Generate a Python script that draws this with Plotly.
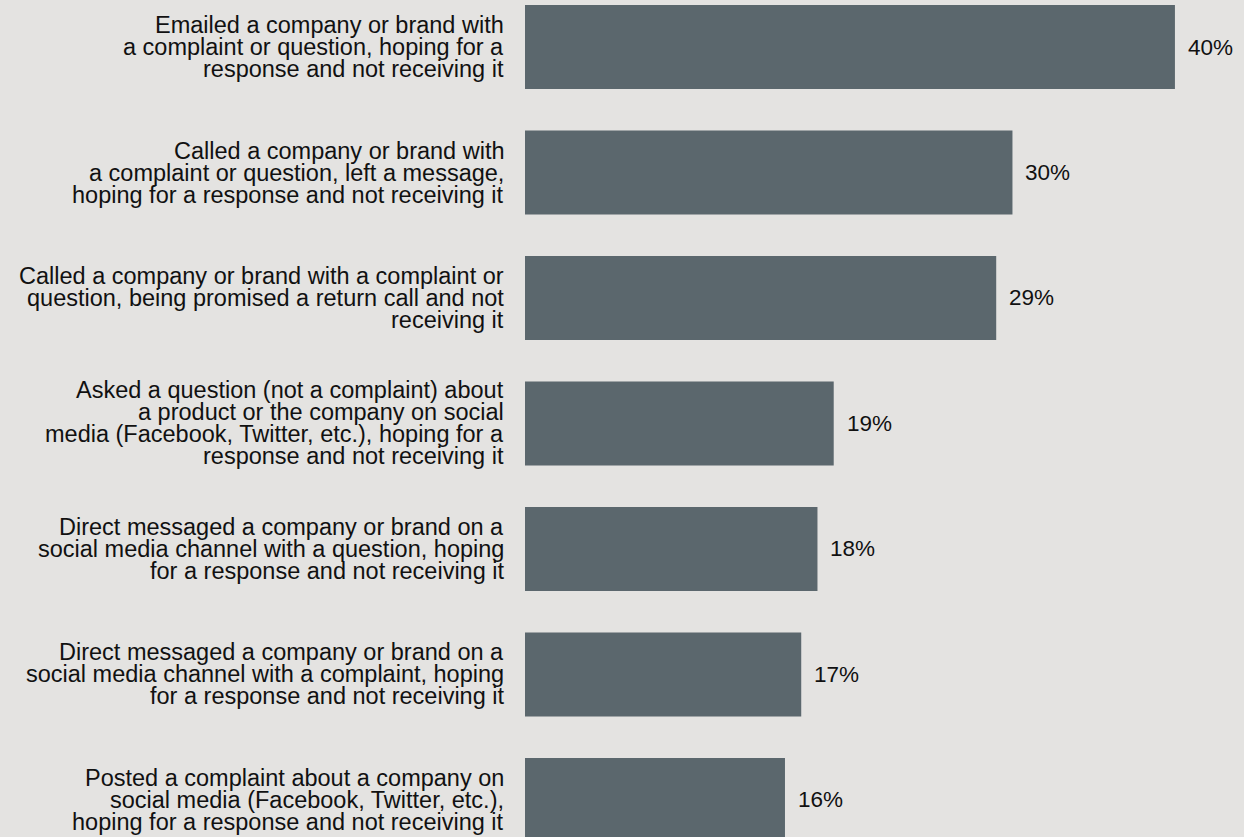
import plotly.graph_objects as go

# Survey responses: experiences of reaching out and getting no reply
categories = [
    "Emailed a company or brand with\na complaint or question, hoping for a\nresponse and not receiving it",
    "Called a company or brand with\na complaint or question, left a message,\nhoping for a response and not receiving it",
    "Called a company or brand with a complaint or\nquestion, being promised a return call and not\nreceiving it",
    "Asked a question (not a complaint) about\na product or the company on social\nmedia (Facebook, Twitter, etc.), hoping for a\nresponse and not receiving it",
    "Direct messaged a company or brand on a\nsocial media channel with a question, hoping\nfor a response and not receiving it",
    "Direct messaged a company or brand on a\nsocial media channel with a complaint, hoping\nfor a response and not receiving it",
    "Posted a complaint about a company on\nsocial media (Facebook, Twitter, etc.),\nhoping for a response and not receiving it",
]
values = [40, 30, 29, 19, 18, 17, 16]

BG = "#e4e3e1"
BAR = "#5b676d"
TEXT = "#111111"
FONT = "Liberation Sans, Arial, Helvetica, sans-serif"
LABEL_SIZE = 23.5
VALUE_SIZE = 22.5
LINE_H = 22

positions = list(range(len(categories)))

fig = go.Figure(
    go.Bar(
        x=values,
        y=positions,
        orientation="h",
        width=0.67,
        marker=dict(color=BAR, line=dict(width=0)),
        hoverinfo="skip",
    )
)

annotations = []
for pos, label, val in zip(positions, categories, values):
    # each wrapped line is its own annotation so the lines can sit tightly
    lines = label.split("\n")
    m = len(lines)
    for k, line in enumerate(lines):
        annotations.append(dict(
            x=0, y=pos, xref="x", yref="y",
            text=line, showarrow=False,
            xanchor="right", yanchor="middle",
            xshift=-19, yshift=((m - 1) / 2 - k) * LINE_H,
            font=dict(family=FONT, size=LABEL_SIZE, color=TEXT),
        ))
    annotations.append(dict(
        x=val, y=pos, xref="x", yref="y",
        text=f"{val}%", showarrow=False,
        xanchor="left", yanchor="middle",
        xshift=11, yshift=0,
        font=dict(family=FONT, size=VALUE_SIZE, color=TEXT),
    ))

fig.update_layout(
    width=1244,
    height=837,
    margin=dict(l=525, r=0, t=0, b=0, pad=0),
    paper_bgcolor=BG,
    plot_bgcolor=BG,
    showlegend=False,
    annotations=annotations,
    xaxis=dict(range=[0, 44.25], visible=False, fixedrange=True),
    yaxis=dict(range=[6.295, -0.3745], visible=False, fixedrange=True),
)

fig.write_html("out.html", config={"displayModeBar": False})
